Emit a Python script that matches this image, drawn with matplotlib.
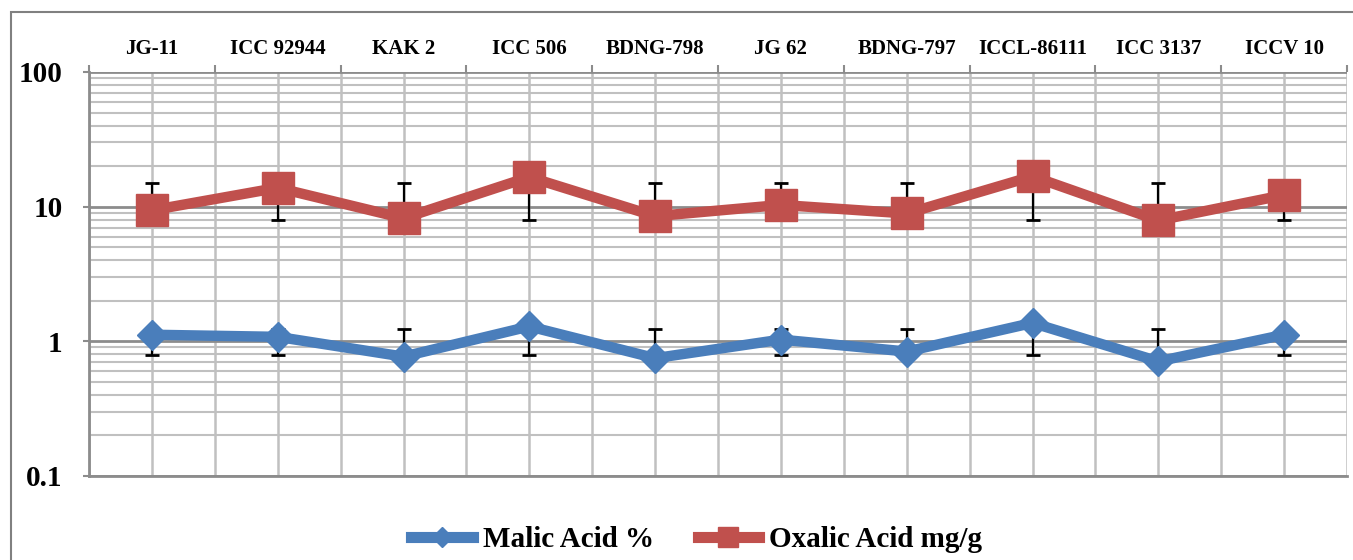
import matplotlib
matplotlib.use("Agg")
import matplotlib.pyplot as plt
from matplotlib.ticker import FixedLocator, LogLocator, NullFormatter, FixedFormatter
from matplotlib.patches import Rectangle
from matplotlib.lines import Line2D

# data
varieties = ["JG-11", "ICC 92944", "KAK 2", "ICC 506", "BDNG-798",
             "JG 62", "BDNG-797", "ICCL-86111", "ICC 3137", "ICCV 10"]
malic = [1.12, 1.08, 0.77, 1.29, 0.75, 1.03, 0.84, 1.37, 0.71, 1.12]
oxalic = [9.4, 13.8, 8.2, 16.6, 8.5, 10.3, 8.9, 16.8, 7.9, 12.2]
# error bar ends
malic_low = [0.79, 0.79, 0.79, 0.79, 0.79, 0.79, 0.79, 0.79, 0.79, 0.79]
malic_high = [1.24, 1.24, 1.24, 1.24, 1.24, 1.24, 1.24, 1.24, 1.24, 1.24]
oxalic_low = [8.0, 8.0, 8.0, 8.0, 8.0, 8.0, 8.0, 8.0, 8.0, 8.0]
oxalic_high = [15.1, 15.1, 15.1, 15.1, 15.1, 15.1, 15.1, 15.1, 15.1, 15.1]
ytick_vals = [0.1, 1, 10, 100]
ytick_labels = ["0.1", "1", "10", "100"]

blue = "#4A7EBB"
red = "#C0504D"
font = "Liberation Serif"

fig = plt.figure(figsize=(13.53, 5.6), dpi=100)
ax = fig.add_axes([89/1353, 1-476/560, 1258/1353, 404/560])

x = list(range(len(varieties)))

# error bars
for lo, hi in [(malic_low, malic_high), (oxalic_low, oxalic_high)]:
    ax.vlines(x, lo, hi, colors="black", linewidth=1.6, zorder=3)
    ax.plot(x, lo, linestyle="none", marker="_", ms=10, mew=2, color="black", zorder=3)
    ax.plot(x, hi, linestyle="none", marker="_", ms=10, mew=2, color="black", zorder=3)

ax.plot(x, malic, color=blue, lw=7.5, marker="D", ms=15, mec=blue, zorder=4)
ax.plot(x, oxalic, color=red, lw=7.5, marker="s", ms=23, mec=red, zorder=4)

ax.set_yscale("log")
ax.set_ylim(0.1, 100)
ax.set_xlim(-0.5, len(varieties) - 0.5)

ax.yaxis.set_major_locator(FixedLocator(ytick_vals))
ax.yaxis.set_major_formatter(FixedFormatter(ytick_labels))
ax.yaxis.set_minor_locator(LogLocator(base=10, subs=range(2, 10)))
ax.yaxis.set_minor_formatter(NullFormatter())

ax.xaxis.tick_top()
ax.set_xticks(x)
ax.set_xticklabels(varieties)
ax.set_xticks([i - 0.5 for i in range(len(varieties) + 1)], minor=True)

# grid
ax.grid(True, which="major", axis="y", color="#8c8c8c", lw=2, zorder=0)
ax.grid(True, which="minor", axis="y", color="#c0c0c0", lw=1.5, zorder=0)
ax.grid(True, which="both", axis="x", color="#c0c0c0", lw=1.8, zorder=0)
ax.set_axisbelow(True)

for side in ["top", "right"]:
    ax.spines[side].set_visible(False)
for side in ["left", "bottom"]:
    ax.spines[side].set_color("#8c8c8c")
    ax.spines[side].set_linewidth(2)

ax.tick_params(axis="x", which="major", length=0, pad=9)
ax.tick_params(axis="x", which="minor", length=5, color="#8c8c8c", width=1.5)
ax.tick_params(axis="y", which="major", length=4, color="#8c8c8c", width=1.5, pad=15)
ax.tick_params(axis="y", which="minor", length=0)

for lab in ax.get_xticklabels():
    lab.set_fontfamily(font)
    lab.set_fontweight("bold")
    lab.set_fontsize(15)
for lab in ax.get_yticklabels():
    lab.set_fontfamily(font)
    lab.set_fontweight("bold")
    lab.set_fontsize(21)

# legend
handles = [
    Line2D([], [], color=blue, lw=8, marker="D", ms=10, mec=blue),
    Line2D([], [], color=red, lw=8, marker="s", ms=14, mec=red),
]
fig.legend(handles, ["Malic Acid %", "Oxalic Acid mg/g"], loc="center",
           bbox_to_anchor=(0.515, 0.036), ncol=2, frameon=False,
           handlelength=2.1, handletextpad=0.35, columnspacing=1.5,
           prop={"family": font, "weight": "bold", "size": 21})

# outer frame of the chart
fig.patches.append(Rectangle((11/1353, -0.1), 1.2, 1 - 12/560 + 0.1,
                             transform=fig.transFigure, fill=False,
                             edgecolor="#808080", lw=1.5))

fig.savefig("out.png", dpi=100, facecolor="white")
